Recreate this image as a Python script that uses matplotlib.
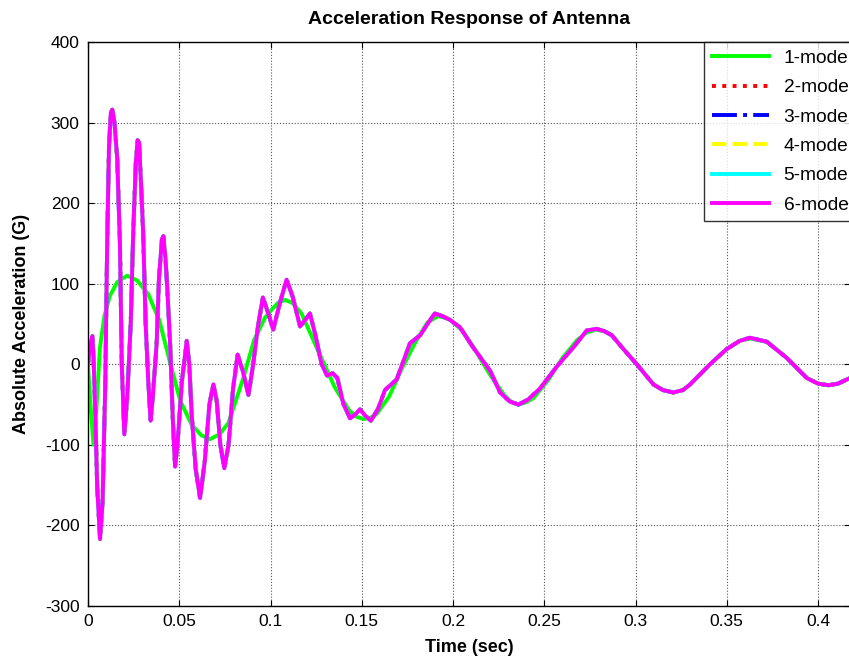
import numpy as np
import matplotlib.pyplot as plt

plt.rcParams['font.family'] = ['Liberation Sans', 'DejaVu Sans']
plt.rcParams['axes.unicode_minus'] = False

# 1-mode response
t_mode1 = [0, 0.0015, 0.003, 0.0045, 0.0065, 0.009, 0.012, 0.016, 0.0215, 0.027,
           0.033, 0.039, 0.045, 0.0505, 0.0568, 0.062, 0.0668, 0.072, 0.0769, 0.0851,
           0.091, 0.097, 0.1007, 0.104, 0.108, 0.112, 0.117, 0.1262, 0.1353, 0.143,
           0.147, 0.151, 0.155, 0.158, 0.165, 0.172, 0.18, 0.186, 0.192, 0.198,
           0.205, 0.212, 0.22, 0.228, 0.232, 0.236, 0.240, 0.244, 0.252, 0.26,
           0.268, 0.273, 0.278, 0.283, 0.287, 0.2933, 0.3007, 0.3098, 0.315, 0.3207,
           0.326, 0.3299, 0.3408, 0.35, 0.357, 0.3627, 0.3719, 0.3828, 0.3938, 0.400,
           0.4057, 0.411, 0.4175]
a_mode1 = [0, -55, -100, -60, 20, 60, 85, 102, 110, 104,
           87, 55, 2, -45, -75, -88, -93, -87, -73, -17,
           30, 58, 68, 76, 80, 76, 63, 16, -29, -57,
           -65, -68, -66, -62, -40, -5, 30, 52, 60, 56,
           42, 18, -12, -38, -47, -50, -47, -42, -20, 8,
           30, 39, 43, 41, 36, 19, 0, -25, -32, -35,
           -32, -25, 0, 19, 29, 32, 28, 8, -17, -24,
           -26, -24, -17]

# 2..6-mode responses (practically identical in the picture)
t_multi = [0, 0.001, 0.0024, 0.003, 0.004, 0.005, 0.0066, 0.008, 0.0095, 0.0105,
           0.0115, 0.0125, 0.0133, 0.0145, 0.016, 0.0175, 0.0185, 0.0199, 0.0215, 0.0234,
           0.0248, 0.0262, 0.0272, 0.028, 0.029, 0.0302, 0.0316, 0.033, 0.0343, 0.0355,
           0.0376, 0.0389, 0.0405, 0.0413, 0.0425, 0.0435, 0.045, 0.0465, 0.0477, 0.049,
           0.0515, 0.0541, 0.0555, 0.0568, 0.059, 0.0614, 0.064, 0.0665, 0.0687, 0.0705,
           0.0725, 0.0747, 0.077, 0.0795, 0.082, 0.085, 0.0879, 0.0905, 0.093, 0.0958,
           0.0985, 0.1015, 0.105, 0.1088, 0.112, 0.1162, 0.119, 0.1216, 0.1244, 0.128,
           0.131, 0.134, 0.1366, 0.1399, 0.1436, 0.1465, 0.149, 0.152, 0.155, 0.159,
           0.1627, 0.1691, 0.1764, 0.182, 0.186, 0.19, 0.194, 0.1984, 0.2038, 0.211,
           0.2203, 0.2258, 0.231, 0.2358, 0.241, 0.2477, 0.2568, 0.2659, 0.2733, 0.2787,
           0.283, 0.287, 0.2933, 0.3007, 0.3098, 0.315, 0.3207, 0.326, 0.3299, 0.3408,
           0.35, 0.357, 0.3627, 0.3719, 0.3828, 0.3938, 0.400, 0.4057, 0.411, 0.4175]
a_multi = [0, 20, 35, 10, -60, -150, -217, -170, -20, 150,
           270, 312, 316, 300, 256, 150, 0, -87, -40, 50,
           165, 250, 278, 275, 227, 165, 50, -20, -70, -40,
           25, 107, 155, 159, 130, 91, 25, -70, -127, -100,
           -20, 29, 0, -62, -130, -166, -120, -50, -25, -45,
           -100, -129, -100, -30, 12, -10, -38, 0, 45, 83,
           65, 43, 75, 105, 85, 47, 55, 63, 38, 0,
           -14, -11, -17, -49, -67, -62, -56, -64, -70, -55,
           -32, -19, 26, 36, 50, 63, 60, 55, 46, 21,
           -8, -35, -46, -50, -44, -30, -3, 21, 42, 44,
           41, 36, 19, 0, -25, -32, -35, -32, -25, 0,
           19, 29, 33, 28, 8, -17, -24, -26, -24, -17]

labels = ['1-mode', '2-mode', '3-mode', '4-mode', '5-mode', '6-mode']
colors = ['#00ff00', '#ff0000', '#0000ff', '#ffff00', '#00ffff', '#ff00ff']
styles = ['-', ':', '-.', '--', '-', '-']

W, H = 849, 663
fig = plt.figure(figsize=(W / 100, H / 100), dpi=100)
ax = fig.add_axes([88 / W, (H - 606) / H, 762 / W, 564 / H])

for i, lab in enumerate(labels):
    if i == 0:
        t, a = t_mode1, a_mode1
    else:
        t, a = t_multi, a_multi
    ax.plot(t, a, color=colors[i], ls=styles[i], lw=2.8, label=lab)

ax.set_xlim(0, 0.4175)
ax.set_ylim(-300, 400)
ax.set_xticks(np.arange(0, 0.41, 0.05))
ax.set_xticklabels(['0', '0.05', '0.1', '0.15', '0.2', '0.25', '0.3', '0.35', '0.4'])
ax.set_yticks(np.arange(-300, 401, 100))
ax.grid(True, color='#555555', ls=':', lw=0.8)
ax.tick_params(direction='in', top=True, right=True, labelsize=12.5, length=4, pad=6)
for s in ax.spines.values():
    s.set_linewidth(1.0)

ax.set_title('Acceleration Response of Antenna', fontsize=14, fontweight='bold', pad=13)
ax.set_xlabel('Time (sec)', fontsize=13, fontweight='bold', labelpad=7)
ax.set_ylabel('Absolute Acceleration (G)', fontsize=13, fontweight='bold', labelpad=11)

leg = fig.legend(loc='upper left', bbox_to_anchor=(704 / W, 1 - 42 / H),
                 fontsize=13.8, frameon=True, fancybox=False, edgecolor='black',
                 handlelength=3.0, handletextpad=0.75, labelspacing=0.62,
                 borderaxespad=0, borderpad=0.4)
leg.get_frame().set_linewidth(1.0)

fig.savefig('out.png', dpi=100)
